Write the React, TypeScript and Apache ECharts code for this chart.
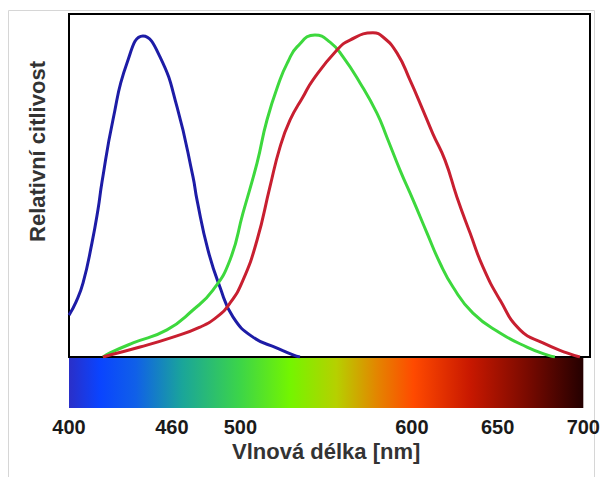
import React, { useEffect, useRef } from "react";
import * as echarts from "echarts";

// Wavelength [nm] / relative sensitivity readings for each cone type
const blueCone: [number, number][] = [
  [400, 0.122], [404, 0.16], [408.1, 0.216], [413.2, 0.332], [416.7, 0.43], [419, 0.51],
  [425.3, 0.691], [433.4, 0.857], [442.6, 0.936], [452.4, 0.875], [462.2, 0.729],
  [471.4, 0.525], [473.7, 0.458], [480, 0.312], [486.9, 0.204], [494.4, 0.117],
  [505.9, 0.058], [519.8, 0.026], [529, 0.006], [533, 0],
];

const greenCone: [number, number][] = [
  [419.6, 0], [423.6, 0.012], [436.9, 0.041], [456.4, 0.079], [471.4, 0.137],
  [482.9, 0.195], [492.7, 0.283], [500.2, 0.42], [508.3, 0.566], [514, 0.691],
  [521.5, 0.808], [526, 0.86], [531.3, 0.904], [541.6, 0.939], [550.3, 0.918],
  [557.8, 0.875], [567.6, 0.799], [577.3, 0.711], [583.1, 0.64], [590.6, 0.545],
  [598.1, 0.458], [606.1, 0.362], [613.6, 0.274], [621.1, 0.204], [632.6, 0.128],
  [648.2, 0.07], [663.7, 0.029], [675.2, 0.006], [679.8, 0],
];

const redCone: [number, number][] = [
  [419.6, 0], [423.6, 0.006], [440.9, 0.029], [459.9, 0.058], [475.4, 0.087],
  [485.2, 0.117], [492.7, 0.157], [500.2, 0.224], [508.3, 0.341], [515.7, 0.496],
  [521.5, 0.612], [527.3, 0.691], [534.7, 0.758], [540.5, 0.808], [554.3, 0.895],
  [561.8, 0.924], [575, 0.945], [580.8, 0.933], [588.9, 0.886], [596.3, 0.808],
  [603.8, 0.72], [609.6, 0.65], [616.5, 0.574], [623.4, 0.466], [630.9, 0.362],
  [638.4, 0.262], [648.2, 0.166], [659.7, 0.079], [672.9, 0.041], [686.7, 0.012],
  [694.2, 0],
];

const wavelengthRange = [400, 700];
const tickWavelengths = [400, 460, 500, 600, 650, 700];
const spectrumBand: [number, number][] = [[400, 1], [700, 1]];

const xTitle = "Vlnová délka [nm]";
const yTitle = "Relativní citlivost";

const spectrumStops = [
  { offset: 0, color: "#2a2fc8" },
  { offset: 0.06, color: "#0a44ff" },
  { offset: 0.13, color: "#1060e8" },
  { offset: 0.22, color: "#1aa59a" },
  { offset: 0.33, color: "#3bd44a" },
  { offset: 0.43, color: "#74f500" },
  { offset: 0.52, color: "#b6d000" },
  { offset: 0.6, color: "#e48400" },
  { offset: 0.67, color: "#ff4a00" },
  { offset: 0.78, color: "#c81800" },
  { offset: 0.89, color: "#7a0a00" },
  { offset: 1, color: "#240000" },
];

export default function App() {
  const ref = useRef<HTMLDivElement>(null);
  useEffect(() => {
    document.body.style.margin = "0";
    const chart = echarts.init(ref.current!, null, { renderer: "svg" });
    const font = "'Liberation Sans', Arial, sans-serif";
    const lineCommon = {
      type: "line", xAxisIndex: 0, yAxisIndex: 0, smooth: 0.5,
      symbol: "none", z: 3,
    };
    chart.setOption({
      animation: false,
      backgroundColor: "#ffffff",
      graphic: [
        {
          type: "rect",
          shape: { x: 8.5, y: 10.5, width: 586, height: 500 },
          style: { fill: "none", stroke: "#d6d6d6", lineWidth: 1 },
          silent: true,
        },
      ],
      grid: [
        {
          left: 69, top: 14, width: 521, height: 343,
          show: true, borderColor: "#000", borderWidth: 2, backgroundColor: "transparent",
        },
        { left: 69, top: 358, width: 521, height: 50 },
      ],
      xAxis: [
        {
          type: "value", gridIndex: 0, min: wavelengthRange[0], max: wavelengthRange[1],
          axisLine: { show: false }, axisTick: { show: false }, axisLabel: { show: false },
          splitLine: { show: false },
        },
        {
          type: "value", gridIndex: 1, min: wavelengthRange[0], max: wavelengthRange[1],
          axisLine: { show: false }, axisTick: { show: false }, splitLine: { show: false },
          axisLabel: {
            customValues: tickWavelengths,
            showMinLabel: true, showMaxLabel: true,
            margin: 9, color: "#1a1a1a", fontSize: 20, fontWeight: "bold", fontFamily: font,
          },
          name: xTitle, nameLocation: "middle", nameGap: 32,
          nameTextStyle: { color: "#333", fontSize: 22, fontWeight: "bold", fontFamily: font },
        },
      ],
      yAxis: [
        {
          type: "value", gridIndex: 0, min: 0, max: 1,
          axisLine: { show: false }, axisTick: { show: false }, axisLabel: { show: false },
          splitLine: { show: false },
          name: yTitle, nameLocation: "middle", nameGap: 21,
          nameTextStyle: {
            color: "#333", fontSize: 22, fontWeight: "bold", fontFamily: font,
            padding: [0, 0, 0, 68],
          },
        },
        {
          type: "value", gridIndex: 1, min: 0, max: 1,
          axisLine: { show: false }, axisTick: { show: false }, axisLabel: { show: false },
          splitLine: { show: false },
        },
      ],
      series: [
        {
          type: "line", xAxisIndex: 1, yAxisIndex: 1, data: spectrumBand, symbol: "none",
          lineStyle: { width: 0 },
          areaStyle: {
            opacity: 1, origin: "start",
            color: new echarts.graphic.LinearGradient(0, 0, 1, 0, spectrumStops),
          },
          silent: true,
        },
        { ...lineCommon, data: blueCone, lineStyle: { color: "#1d1ca6", width: 3 } },
        { ...lineCommon, data: greenCone, lineStyle: { color: "#3dd83d", width: 3 } },
        { ...lineCommon, data: redCone, lineStyle: { color: "#c81f30", width: 3 } },
      ],
    });
    return () => chart.dispose();
  }, []);
  return <div ref={ref} style={{ width: 603, height: 477 }} />;
}
